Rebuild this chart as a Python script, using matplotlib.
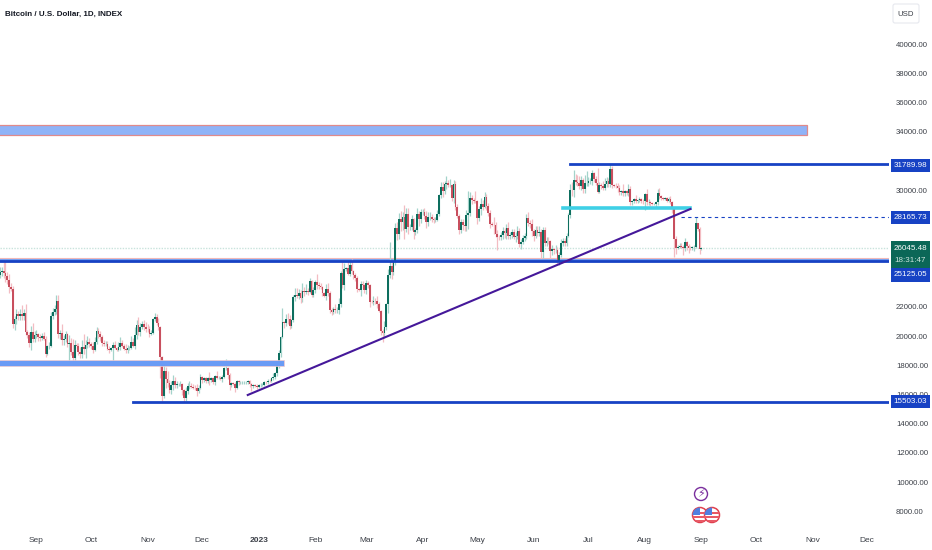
import numpy as np
import pandas as pd
import matplotlib
matplotlib.use('Agg')
import matplotlib.pyplot as plt
import matplotlib.dates as mdates
from matplotlib.patches import Rectangle, Circle, FancyBboxPatch
from matplotlib.ticker import FormatStrFormatter

plt.rcParams['font.family'] = ['Liberation Sans', 'DejaVu Sans']

first_open = 24200
first_day = '2022-08-12'

# daily closes, one line per month
closes = [
    24400, 24440, 24300, 24100, 23850, 23330, 23200, 20830, 21140, 21520, 21400, 21530, 21370, 21560, 20240, 20040, 19550, 20280, 19800, 20050,
    20130, 19950, 19830, 20000, 19800, 18790, 19290, 19320, 21360, 21650, 21830, 22400, 20170, 20230, 19700, 19800, 20110, 19420, 19540, 18880, 18490, 19400, 19300, 18920, 18800, 19220, 19080, 19410, 19590, 19420,
    19310, 19060, 19620, 20340, 20160, 19960, 19530, 19420, 19440, 19130, 19060, 19150, 19380, 19180, 19070, 19260, 19550, 19330, 19120, 19040, 19160, 19200, 19570, 19330, 20090, 20770, 20290, 20600, 20820, 20630, 20490,
    20480, 20150, 20210, 21150, 21300, 20920, 20600, 18540, 15880, 17590, 17070, 16810, 16330, 16620, 16900, 16660, 16690, 16700, 16700, 16280, 15780, 16220, 16600, 16600, 16520, 16460, 16430, 16210, 16440, 17170,
    16970, 17090, 16890, 17110, 16970, 17090, 16840, 17230, 17130, 17130, 17080, 17210, 17780, 17810, 17360, 16630, 16780, 16740, 16440, 16900, 16820, 16830, 16830, 16840, 16840, 16920, 16710, 16550, 16630, 16600, 16540,
    16610, 16670, 16670, 16850, 16830, 16950, 16940, 17120, 17180, 17440, 17940, 18850, 19930, 20950, 20870, 21180, 21140, 20680, 21080, 22680, 22780, 22710, 22920, 22630, 23060, 23010, 23080, 23030, 23770, 22840, 23130,
    23730, 23490, 23430, 23330, 22940, 22760, 23240, 22960, 21800, 21630, 21860, 21780, 21780, 22200, 24330, 23520, 24570, 24630, 24280, 24840, 24450, 24190, 23940, 23190, 23160, 23560, 23490, 23150,
    23650, 23480, 22360, 22350, 22430, 22410, 22200, 21710, 20360, 20190, 20630, 22160, 24200, 24770, 24380, 25050, 27420, 26970, 28040, 27790, 28170, 27310, 28350, 27490, 27490, 28000, 27140, 27270, 28350, 28030, 28470,
    28470, 28190, 27810, 28170, 28170, 28040, 27920, 27950, 28330, 29650, 30230, 29900, 30390, 30480, 30320, 30320, 29430, 30390, 28820, 28250, 27270, 27820, 27590, 27510, 28300, 28420, 29470, 29340, 29240, 29230,
    28070, 28680, 29030, 28850, 29530, 28900, 28450, 27690, 27630, 27620, 26990, 26800, 26780, 26920, 27170, 27030, 27400, 26820, 26890, 27110, 26750, 26850, 27220, 26330, 26470, 26720, 26870, 28080, 27740, 27700, 27220,
    26820, 27250, 27070, 27120, 25760, 27240, 26350, 26510, 26480, 25850, 25940, 25900, 25920, 25130, 25580, 26340, 26510, 26340, 26850, 28310, 30020, 29990, 30680, 30530, 30470, 30270, 30690, 30080, 30450, 30470,
    30590, 30620, 31160, 30770, 30510, 29890, 30350, 30290, 30170, 30410, 30620, 30380, 31470, 30320, 30290, 30250, 30140, 29860, 29910, 29800, 29910, 29790, 30080, 29180, 29230, 29350, 29220, 29310, 29350, 29280, 29230,
    29700, 29170, 29180, 29080, 29040, 29040, 29180, 29770, 29560, 29430, 29400, 29420, 29280, 29400, 29170, 28720, 26620, 26050, 26100, 26190, 26120, 26050, 26430, 26170, 26060, 26000, 26090, 26100, 27720, 27300, 25930,
    26045.48,
]

# wicks in hundreds of dollars
wick_up = [
    3, 3, 6, 9, 3, 4, 3, 2, 2, 3, 2, 3, 6, 3, 6, 2, 2, 4, 6, 3,
    3, 1, 2, 2, 3, 2, 1, 3, 3, 3, 3, 4, 4, 2, 6, 3, 2, 1, 5, 3, 9, 3, 1, 2, 3, 5, 9, 3, 4, 3,
    2, 3, 3, 3, 2, 2, 1, 2, 2, 2, 2, 1, 2, 3, 1, 3, 4, 2, 1, 3, 2, 1, 4, 3, 5, 3, 5, 3, 2, 3, 3,
    3, 2, 2, 1, 3, 2, 3, 1, 1, 6, 3, 5, 2, 3, 4, 3, 2, 1, 2, 1, 1, 3, 2, 3, 2, 2, 2, 3, 2, 2,
    1, 1, 1, 1, 4, 1, 1, 1, 4, 1, 1, 1, 1, 6, 1, 1, 1, 1, 1, 1, 1, 1, 1, 1, 1, 1, 1, 1, 1, 1, 1,
    1, 1, 1, 1, 1, 1, 1, 1, 3, 1, 1, 2, 1, 10, 1, 3, 4, 3, 1, 1, 5, 5, 3, 2, 6, 3, 5, 2, 2, 1, 2,
    1, 5, 2, 2, 1, 1, 3, 4, 1, 1, 1, 3, 2, 4, 1, 9, 4, 1, 5, 3, 4, 1, 1, 2, 1, 2, 2, 1,
    2, 1, 1, 1, 3, 2, 3, 1, 1, 1, 4, 1, 4, 17, 4, 2, 3, 4, 4, 5, 3, 8, 4, 4, 2, 3, 1, 1, 4, 2, 2,
    2, 3, 4, 3, 3, 2, 1, 2, 3, 1, 3, 3, 2, 5, 2, 4, 1, 3, 2, 2, 1, 2, 2, 2, 3, 15, 4, 2, 1, 7,
    1, 2, 4, 3, 3, 2, 2, 2, 1, 5, 2, 3, 1, 2, 3, 2, 3, 4, 2, 2, 2, 3, 3, 2, 2, 2, 2, 3, 4, 2, 3,
    1, 3, 3, 4, 2, 2, 2, 3, 3, 1, 3, 1, 3, 2, 2, 3, 2, 2, 2, 1, 4, 5, 7, 4, 5, 5, 3, 1, 6, 8,
    3, 2, 2, 1, 2, 10, 2, 1, 3, 4, 3, 2, 3.2, 2, 1, 2, 2, 2, 1, 5, 1, 1, 3, 2, 1, 1, 3, 1, 2, 1, 1,
    1, 4, 2, 1, 1, 1, 1, 3, 4, 1, 1, 1, 1, 1, 2, 1, 1, 2, 1, 2, 2, 1, 3, 1, 1, 1, 1, 1, 4.46, 0.4, 2,
    0.3,
]
wick_dn = [
    2, 3, 3, 4, 3, 4, 1, 3, 4, 3, 3, 3, 3, 3, 2, 2, 3, 5, 2, 2,
    2, 3, 2, 1, 1, 2, 1, 2, 1, 2, 2, 3, 3, 4, 3, 3, 2, 2, 12, 2, 4, 2, 1, 2, 3, 3, 3, 6, 2, 2,
    2, 2, 1, 2, 3, 3, 2, 1, 1, 1, 2, 1, 10, 1, 1, 1, 2, 1, 1, 2, 2, 1, 1, 1, 2, 3, 2, 3, 1, 2, 2,
    2, 2, 1, 1, 1, 2, 2, 14, 3, 1, 6, 3, 2, 3, 3, 2, 2, 1, 1, 3, 3, 2, 2, 2, 1, 1, 1, 3, 1, 1,
    2, 1, 1, 1, 3, 1, 1, 2, 1, 1, 1, 2, 1, 1, 3, 3, 1, 1, 3, 1, 2, 1, 1, 1, 1, 1, 2, 3, 1, 1, 2,
    1, 1, 1, 1, 1, 1, 1, 1, 1, 1, 2, 1, 3, 1, 3, 2, 3, 2, 1, 1, 3, 1, 2, 4, 3, 3, 1, 2, 1, 2, 2,
    2, 3, 2, 1, 2, 1, 3, 2, 2, 2, 1, 2, 2, 3, 2, 2, 4, 1, 1, 2, 2, 3, 2, 2, 1, 4, 2, 2,
    3, 2, 4, 1, 2, 2, 3, 1, 3, 6, 3, 2, 6, 2, 5, 2, 2, 4, 3, 6, 5, 7, 2, 5, 2, 2, 5, 2, 2, 5, 3,
    2, 2, 4, 3, 2, 2, 2, 1, 1, 1, 2, 4, 2, 3, 1, 1, 2, 3, 2, 2, 3, 2, 3, 3, 3, 10, 2, 3, 1, 1,
    4, 2, 4, 2, 1, 3, 2, 3, 1, 6, 2, 9, 2, 2, 3, 3, 4, 2, 2, 2, 1, 3, 2, 2, 4, 2, 2, 2, 2, 3, 4,
    3, 1, 2, 2, 4, 4, 2, 2, 2, 5, 3, 3, 2, 3, 3, 2, 2, 2, 2, 1, 2, 4, 5, 2, 2, 2, 3, 3, 3, 2,
    2, 2, 3, 2, 2, 1, 1, 2, 2, 2, 2, 2, 2, 2, 1, 1, 3, 2, 2, 2, 2, 1, 2, 2, 2, 1, 1, 1, 1, 2, 2,
    6, 2, 2, 2, 1, 1, 2, 2, 2, 1, 1, 1, 1, 1, 1, 3, 12, 4, 1, 1, 1, 5, 2, 3, 4, 1, 1, 3, 1, 1, 3,
    0.5,
]

price_ticks = [40000, 38000, 36000, 34000, 30000, 22000, 20000, 18000, 16000, 14000, 12000, 10000, 8000]
month_ticks = ['2022-09-01', '2022-10-01', '2022-11-01', '2022-12-01', '2023-01-01', '2023-02-01', '2023-03-01', '2023-04-01',
               '2023-05-01', '2023-06-01', '2023-07-01', '2023-08-01', '2023-09-01', '2023-10-01', '2023-11-01', '2023-12-01']
month_labels = ['Sep', 'Oct', 'Nov', 'Dec', '2023', 'Feb', 'Mar', 'Apr', 'May', 'Jun', 'Jul', 'Aug', 'Sep', 'Oct', 'Nov', 'Dec']

# drawn levels
last_price = 26045.48
res_high = 31789.98
res_mid = 28165.73
sup_mid = 25125.05
sup_low = 15503.03

assert len(closes) == len(wick_up) == len(wick_dn) == 386

closes = np.array(closes, dtype=float)
opens = np.r_[first_open, closes[:-1]]
highs = np.maximum(opens, closes) + np.array(wick_up) * 100
lows = np.minimum(opens, closes) - np.array(wick_dn) * 100
dates = mdates.date2num(pd.date_range(first_day, periods=len(closes)))
up = closes >= opens


def d(s):
    return mdates.date2num(pd.Timestamp(s))


BLUE = '#1742c4'
fig = plt.figure(figsize=(9.32, 5.5), dpi=100)
ax = fig.add_axes([0, 23 / 550, 889 / 932, 501 / 550])
for s in ax.spines.values():
    s.set_visible(False)

# zones
ax.add_patch(Rectangle((d('2022-08-01'), 33800), d('2023-10-29') - d('2022-08-01'), 680, fc='#8fb3f7', ec='#e08a8a', lw=0.9, zorder=1))
ax.add_patch(Rectangle((d('2022-08-01'), 17940), d('2023-01-15') - d('2022-08-01'), 440, fc='#6a9bf5', ec='#f5cccc', lw=0.5, zorder=4))
ax.add_patch(Rectangle((d('2022-08-01'), sup_mid), d('2024-01-01') - d('2022-08-01'), 230, fc='#6f9ff5', ec='#f0b8b8', lw=0.8, zorder=1))
ax.axhline(last_price, color='#c9e3dc', lw=1, ls=(0, (1, 1)), zorder=1)

# candles
ax.vlines(dates[up], lows[up], highs[up], color='#a3d3ca', lw=0.9, zorder=2)
ax.vlines(dates[~up], lows[~up], highs[~up], color='#f3bcc2', lw=0.9, zorder=2)
ax.bar(dates[up], (closes - opens)[up], bottom=opens[up], width=0.95, color='#0d6e5e', lw=0, zorder=3)
ax.bar(dates[~up], (closes - opens)[~up], bottom=opens[~up], width=0.95, color='#c84f5e', lw=0, zorder=3)

# levels and trendline
ax.plot([d('2023-06-21'), d('2024-01-01')], [res_high, res_high], color=BLUE, lw=2, zorder=5)
ax.plot([d('2022-08-01'), d('2024-01-01')], [sup_mid, sup_mid], color=BLUE, lw=2, zorder=5)
ax.plot([d('2022-10-24'), d('2024-01-01')], [sup_low, sup_low], color=BLUE, lw=2, zorder=5)
ax.plot([d('2023-08-21'), d('2024-01-01')], [res_mid, res_mid], color=BLUE, lw=0.8, ls=(0, (3, 3)), zorder=5)
ax.plot([d('2023-06-17'), d('2023-08-26')], [28760, 28760], color='#3fd0e6', lw=2.6, zorder=5)
ax.plot([d('2022-12-26'), d('2023-08-26')], [15960, 28700], color='#45189a', lw=1.5, zorder=6)

ax.set_xlim(d('2022-08-12'), d('2023-12-13'))
ax.set_ylim(6918, 41233)
ax.yaxis.tick_right()
ax.set_yticks(price_ticks)
ax.yaxis.set_major_formatter(FormatStrFormatter('%.2f'))
ax.set_xticks([d(m) for m in month_ticks])
ax.set_xticklabels(month_labels)
ax.tick_params(axis='y', length=0, pad=5, labelsize=5.6, labelcolor='#3c4048')
ax.tick_params(axis='x', length=0, pad=7, labelsize=6, labelcolor='#3c4048')
ax.get_xticklabels()[4].set_fontweight('bold')

# overlay in pixels for title, price labels and icons
ov = fig.add_axes([0, 0, 1, 1], zorder=10)
ov.set_xlim(0, 932)
ov.set_ylim(550, 0)
ov.axis('off')

ov.text(5, 14, 'Bitcoin / U.S. Dollar, 1D, INDEX', fontsize=5.8, fontweight='bold', color='#131722', va='center')
ov.add_patch(FancyBboxPatch((893, 4), 26, 19, boxstyle='round,pad=0,rounding_size=2', fc='white', ec='#e6e8ee', lw=0.8))
ov.text(906, 14, 'USD', fontsize=5.6, color='#3c4048', ha='center', va='center')

labels = [('31789.98', 159, 172), ('28165.73', 211, 224), ('25125.05', 268, 282), ('15503.03', 395, 408)]
for txt, y0, y1 in labels:
    ov.add_patch(Rectangle((891, y0), 39, y1 - y0, fc=BLUE, ec='none'))
    ov.text(910.5, (y0 + y1) / 2, txt, fontsize=5.8, color='white', ha='center', va='center')
ov.add_patch(Rectangle((891, 241), 39, 27, fc='#0b6757', ec='none'))
ov.text(910.5, 248, '26045.48', fontsize=5.8, color='white', ha='center', va='center')
ov.text(910.5, 261, '18:31:47', fontsize=5.8, color='#cfe6df', ha='center', va='center')

# event icons
ov.add_patch(Circle((701, 494), 6.5, fc='white', ec='#7a2f9e', lw=1))
ov.text(701, 494, '\u26a1', fontsize=8, color='#7a2f9e', ha='center', va='center', family='DejaVu Sans')
for cx in [700, 712]:
    c = Circle((cx, 515), 7.5, fc='white', ec='#e0404f', lw=1.1, zorder=3)
    ov.add_patch(c)
    for sy in [511.5, 515.5, 519.5]:
        st = Rectangle((cx - 8, sy), 16, 2, fc='#e85a66', ec='none', zorder=4)
        ov.add_patch(st)
        st.set_clip_path(c)
    cant = Rectangle((cx - 8, 507), 8, 8, fc='#4f7fe0', ec='none', zorder=5)
    ov.add_patch(cant)
    cant.set_clip_path(c)

fig.savefig('out.png', dpi=100, facecolor='white')
